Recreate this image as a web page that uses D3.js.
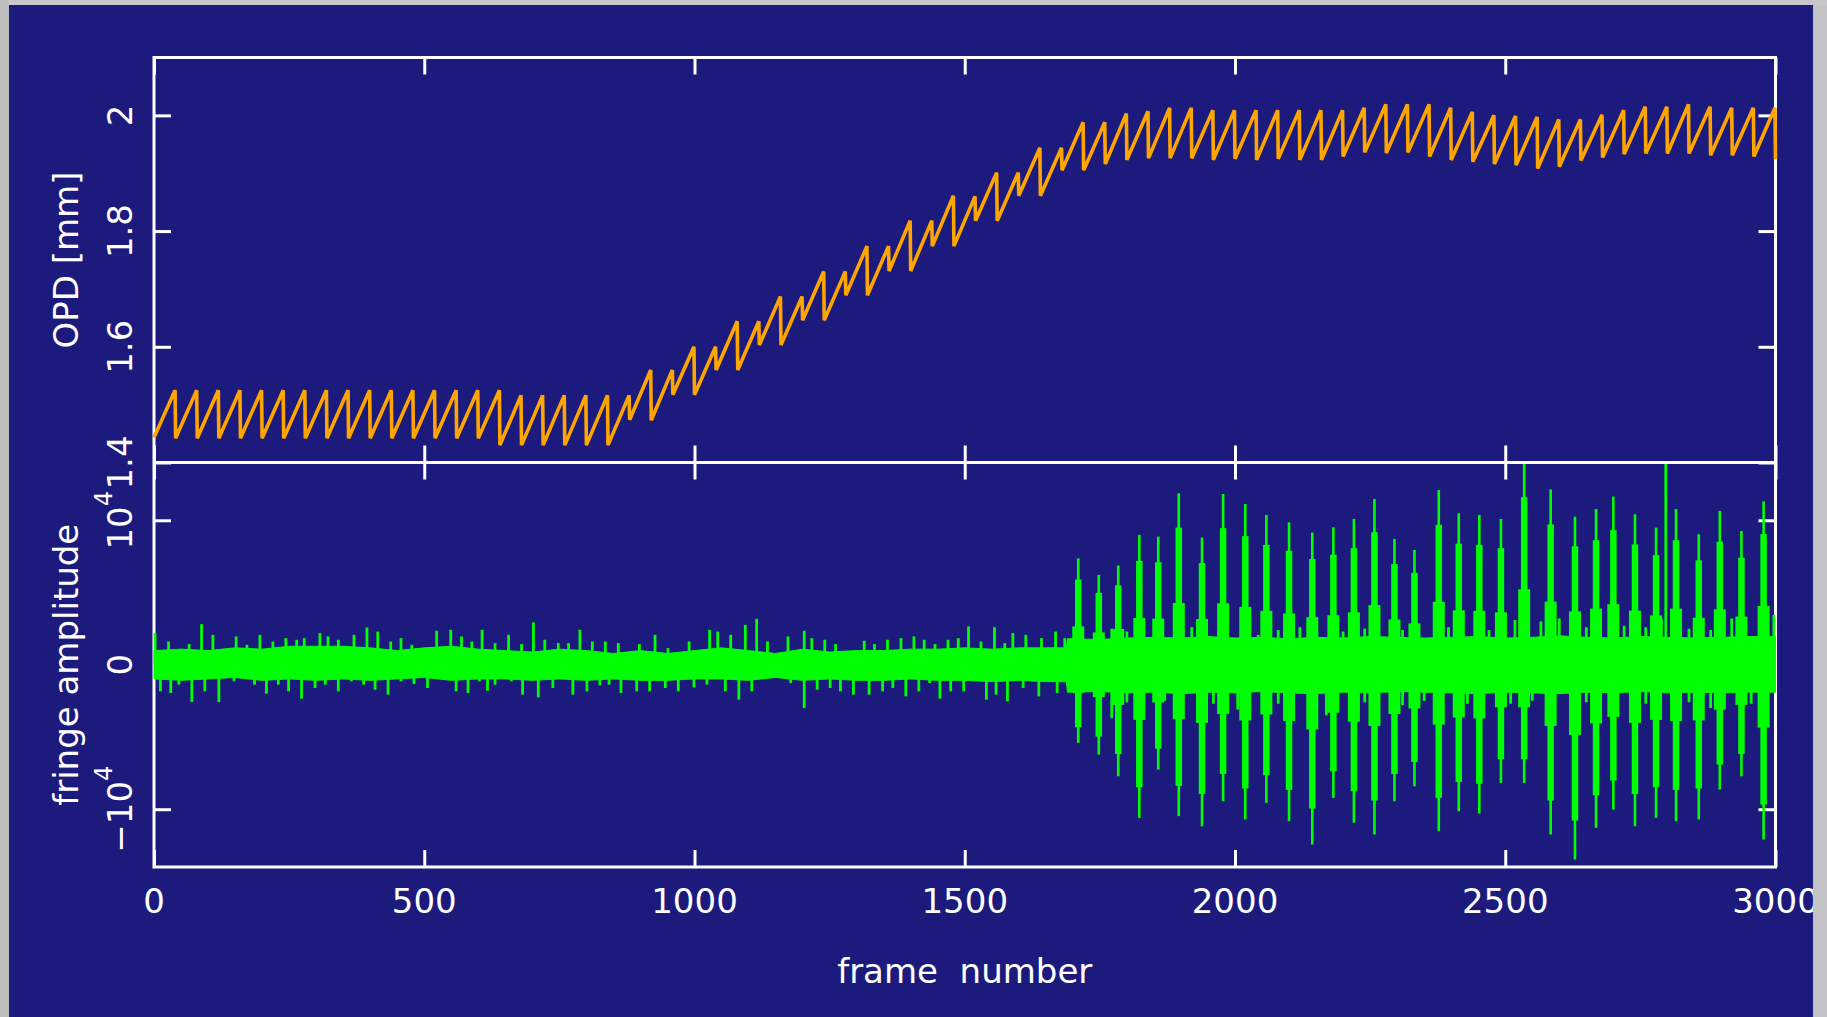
<!DOCTYPE html>
<html>
<head>
<meta charset="utf-8">
<script src="https://cdn.jsdelivr.net/npm/d3@7"></script>
<style>
  html, body { margin: 0; padding: 0; background: #c3c3c6; }
  svg { display: block; }
</style>
</head>
<body>
<svg id="chart" width="1827" height="1017"></svg>
<script>
// ---------------- OPD scan (upper panel) ----------------
// Each tooth: linear ramp up to a peak, then a fast drop to the trough.
const opdStart = [0, 1.443];
const peakFrame = [39,79,119,159,199,239,279,319,359,399,439,479,519,559,599,639,679,719,759,799,
  839,879,919,959,999,1039,1079,1119,1159,1199,1239,1279,1319,1359,1399,1439,1479,1519,1559,1599,
  1639,1679,1719,1759,1799,1839,1879,1919,1959,1999,2039,2079,2119,2159,2199,2239,2279,2319,2359,2399,
  2439,2479,2519,2559,2599,2639,2679,2719,2759,2799,2839,2879,2919,2959,2999];
const troughFrame = [40,80,120,160,200,240,280,320,360,400,440,480,520,560,600,640,680,720,760,800,
  840,880,920,960,1000,1040,1080,1120,1160,1200,1240,1280,1320,1360,1400,1440,1480,1520,1560,1600,
  1640,1680,1720,1760,1800,1840,1880,1920,1960,2000,2040,2080,2120,2160,2200,2240,2280,2320,2360,2400,
  2440,2480,2520,2560,2600,2640,2680,2720,2760,2800,2840,2880,2920,2960,3000];
const peakOpd = [1.525,1.525,1.525,1.525,1.525,1.525,1.525,1.525,1.525,1.525,1.525,1.525,1.525,1.525,1.525,
  1.525,1.516,1.516,1.516,1.516,1.516,1.516,
  1.560,1.560,1.600,1.600,1.644,1.644,1.687,1.687,1.730,1.730,1.774,1.774,1.818,1.818,1.861,1.860,
  1.901,1.901,1.944,1.944,1.988,1.988,2.003,2.007,2.013,2.013,2.009,2.009,2.009,2.009,2.009,2.009,2.009,
  2.013,2.019,2.019,2.019,2.013,2.006,2.000,1.999,1.997,1.993,1.993,2.001,2.009,2.015,2.015,2.019,2.015,
  2.013,2.013,2.013];
const troughOpd = [1.442,1.442,1.442,1.442,1.442,1.442,1.442,1.442,1.442,1.442,1.442,1.442,1.442,1.442,1.442,
  1.430,1.430,1.430,1.430,1.430,1.430,1.474,1.473,
  1.517,1.517,1.560,1.560,1.603,1.603,1.646,1.646,1.689,1.689,1.731,1.731,1.774,1.774,1.818,1.818,
  1.861,1.861,1.905,1.905,
  1.916,1.923,1.926,1.926,1.926,1.923,1.925,1.923,1.925,1.923,1.923,1.929,1.936,1.935,1.936,1.929,
  1.923,1.920,1.916,1.914,1.908,1.911,1.922,1.927,1.933,1.934,1.934,1.934,1.931,1.931,1.929,1.924];

// ---------------- fringe amplitude (lower panel) ----------------
// Dense noise band: envelope of the solid part of the trace (counts)
const bandFrame = [0,50,100,150,200,250,300,350,400,450,500,550,600,650,700,750,800,850,900,950,
  1000,1050,1100,1150,1200,1250,1300,1350,1400,1450,1500,1550,1600,1650,1688,
  1690,1750,1800,1850,1900,1950,2000,2050,2100,2150,2200,2250,2300,2350,2400,2450,2500,2550,2600,
  2650,2700,2750,2800,2850,2900,2950,3000];
const bandHi = [980,1080,980,1170,1080,1280,1280,1280,1170,980,1170,1280,1080,980,880,1080,980,780,980,780,
  980,1170,980,780,1080,880,980,980,1080,1080,1170,1080,1170,1170,1170,
  1800,1750,1850,1900,1850,1950,1850,1900,1800,1900,1850,1950,1900,1850,1900,1950,1850,1900,2000,
  1900,1850,1950,1900,1850,1900,1950,1950];
const bandLo = [-980,-1080,-980,-880,-1080,-980,-1080,-980,-1080,-980,-880,-1080,-980,-980,-1080,-980,-1080,-980,-1080,-1080,
  -980,-980,-1080,-880,-1080,-980,-1080,-1080,-980,-1080,-1080,-1170,-1080,-1170,-1170,
  -1900,-1850,-1950,-1900,-2000,-1900,-1950,-1850,-1950,-2000,-1900,-1950,-1850,-1900,-1950,-2000,-1900,-1950,-2000,
  -1900,-1950,-1850,-1950,-1900,-1950,-1900,-1900];

// Isolated noise spikes sticking out of the band (frame, counts)
const spikeFrame = [2,27,65,88,109,152,172,196,220,244,264,278,307,322,341,370,394,414,438,457,477,523,549,569,588,607,631,656,680,702,
  723,748,767,788,811,835,859,898,927,951,990,1028,1043,1067,1094,1115,1135,1173,1203,1217,1241,1261,1314,1333,1357,1382,1406,1425,1445,1469,
  1488,1507,1530,1555,1574,1589,1613,1642,1668,1685,
  12,31,46,70,94,120,148,186,208,230,249,273,298,317,341,365,388,409,433,457,481,506,559,581,602,617,631,661,682,711,
  738,775,801,825,842,864,893,917,946,970,999,1023,1057,1082,1106,1178,1203,1227,1251,1270,1294,1323,1348,1367,1391,1415,1435,1454,1474,1498,
  1540,1558,1579,1608,1637,1671,
  1772,1800,1920,2043,2080,2120,2200,2240,2310,2395,2470,2518,2566,2600,2650,2720,2760,2789,2797,2840,2880,2919,2997,
  1772,1800,1870,1960,2005,2080,2169,2240,2310,2350,2430,2510,2550,2650,2700,2760,2840,2880,2955];
const spikeValue = [2190,1610,1430,2810,2070,1960,1380,2070,1610,1840,1730,1840,2190,1960,1730,2070,2580,2300,1610,1840,1380,2350,2420,1960,1610,2420,1500,2070,1430,2930,
  1730,1500,1500,2420,1610,1610,1500,1430,2070,1150,1610,2420,2300,2070,2760,3180,1610,1960,2350,1840,1730,1430,1660,1430,1730,1840,1960,1730,1430,1730,
  1840,2650,1610,2600,1500,2190,2070,1840,2300,1840,
  -1840,-1960,-1380,-2580,-1840,-2580,-1150,-1380,-2000,-1380,-1840,-2350,-1610,-1380,-1840,-1150,-1380,-1730,-2070,-1150,-1340,-1610,-1840,-1960,-1150,-1800,-1380,-1150,-2070,-2260,
  -1610,-2070,-1840,-1430,-1380,-1960,-1840,-1840,-1610,-1840,-1570,-1380,-1840,-2420,-1840,-1270,-3000,-1730,-1610,-1840,-2070,-2070,-1840,-1610,-2190,-1840,-1270,-2350,-1840,-1840,
  -2420,-2070,-2530,-1610,-2190,-1960,
  2500,2300,2600,2070,2400,2600,2300,2500,2400,2600,2400,3100,3000,3200,2600,2700,2600,3200,14500,2500,2400,3200,3450,
  -3700,-2600,-2500,-2700,-3100,-2700,-3500,-2600,-2800,-2500,-2700,-2700,-2500,-2600,-2800,-2700,-2600,-3000,-2700];

// Fringe packets: centre frame, positive and negative extremes (counts)
const packetFrame = [1710,1748,1784,1823,1858,1896,1939,1978,2019,2058,2100,2143,2182,2220,2258,2295,2332,2377,
  2414,2452,2492,2535,2584,2629,2668,2700,2740,2779,2816,2858,2897,2937,2978];
const packetTop = [7370,6220,6870,8990,8870,11870,8800,11820,11130,10370,9860,9150,9520,10090,11470,8710,7950,12100,
  10480,10370,10090,14500,12140,10250,10780,11640,10410,9490,10780,9030,10650,9260,11310];
const packetBottom = [-5410,-6220,-7720,-10600,-7260,-10480,-11180,-9450,-10710,-9560,-10830,-12440,-9220,-10940,-11750,-9450,-8410,-11520,
  -10140,-10300,-8180,-8180,-11750,-13480,-11290,-10020,-11180,-10600,-10830,-10710,-8640,-7720,-12100];

// ---------------- axis ticks ----------------
const frameTicks = [0, 500, 1000, 1500, 2000, 2500, 3000];
const opdTicks = [1.4, 1.6, 1.8, 2.0];
const opdTickLabels = ["1.4", "1.6", "1.8", "2"];
const ampTicks = [-10000, 0, 10000];

// ---------------- layout ----------------
const W = 1827, H = 1017;
const X0 = 154, X1 = 1775.5, YT = 57.5, YM = 462.5, YB = 867;
const TICK = 17;
const BG = "#1c1b7d", FG = "#ffffff";
const FONT = "'DejaVu Sans', Verdana, sans-serif";

const svg = d3.select("#chart");

svg.append("rect").attr("width", W).attr("height", H).attr("fill", "#c3c3c6");
svg.append("rect").attr("x", 9).attr("y", 5).attr("width", 1804).attr("height", H - 5).attr("fill", BG);

const x = d3.scaleLinear().domain([0, 3000]).range([X0, X1]);
const yOpd = d3.scaleLinear().domain([1.4, 2.1]).range([YM, YT]);
const yAmp = d3.scaleLinear().domain([-14000, 14000]).range([YB, YM]);

const defs = svg.append("defs");
defs.append("clipPath").attr("id", "clipBot")
  .append("rect").attr("x", X0 - 2).attr("y", YM + 1.5).attr("width", X1 - X0 + 4).attr("height", YB - YM - 1.5);

// ---- frames and ticks ----
const axes = svg.append("g");
function styleAxis(g) {
  g.select(".domain").remove();
  g.selectAll(".tick line").attr("stroke", FG).attr("stroke-width", 3);
  g.selectAll(".tick text").remove();
}
axes.append("g").attr("transform", `translate(0,${YT})`)
  .call(d3.axisTop(x).tickValues(frameTicks).tickSize(-TICK)).call(styleAxis);
axes.append("g").attr("transform", `translate(0,${YM})`)
  .call(d3.axisBottom(x).tickValues(frameTicks).tickSize(-TICK)).call(styleAxis);
axes.append("g").attr("transform", `translate(0,${YM})`)
  .call(d3.axisTop(x).tickValues(frameTicks).tickSize(-TICK)).call(styleAxis);
axes.append("g").attr("transform", `translate(0,${YB})`)
  .call(d3.axisBottom(x).tickValues(frameTicks).tickSize(-TICK)).call(styleAxis);
axes.append("g").attr("transform", `translate(${X0},0)`)
  .call(d3.axisLeft(yOpd).tickValues(opdTicks).tickSize(-TICK)).call(styleAxis);
axes.append("g").attr("transform", `translate(${X1},0)`)
  .call(d3.axisRight(yOpd).tickValues(opdTicks).tickSize(-TICK)).call(styleAxis);
axes.append("g").attr("transform", `translate(${X0},0)`)
  .call(d3.axisLeft(yAmp).tickValues(ampTicks).tickSize(-TICK)).call(styleAxis);
axes.append("g").attr("transform", `translate(${X1},0)`)
  .call(d3.axisRight(yAmp).tickValues(ampTicks).tickSize(-TICK)).call(styleAxis);

axes.append("rect").attr("x", X0).attr("y", YT).attr("width", X1 - X0).attr("height", YB - YT)
  .attr("fill", "none").attr("stroke", FG).attr("stroke-width", 3);
axes.append("line").attr("x1", X0).attr("x2", X1).attr("y1", YM).attr("y2", YM)
  .attr("stroke", FG).attr("stroke-width", 3);

// ---- OPD sawtooth ----
const opdPts = [opdStart];
peakFrame.forEach((f, i) => {
  opdPts.push([f, peakOpd[i]]);
  opdPts.push([troughFrame[i], troughOpd[i]]);
});
svg.append("path")
  .datum(opdPts)
  .attr("fill", "none")
  .attr("stroke", "#ffa500")
  .attr("stroke-width", 3.6)
  .attr("stroke-linejoin", "miter")
  .attr("stroke-miterlimit", 3)
  .attr("d", d3.line().x(d => x(d[0])).y(d => yOpd(d[1])));

// ---- fringe amplitude ----
const GREEN = "#00ff00";
const lower = svg.append("g").attr("clip-path", "url(#clipBot)");

const band = bandFrame.map((f, i) => ({ f, hi: bandHi[i], lo: bandLo[i] }));
lower.append("path")
  .datum(band)
  .attr("fill", GREEN)
  .attr("stroke", GREEN)
  .attr("stroke-width", 1)
  .attr("d", d3.area().curve(d3.curveLinear)
    .x(d => x(d.f)).y0(d => yAmp(d.lo)).y1(d => yAmp(d.hi)));

lower.selectAll("line.spike")
  .data(spikeFrame.map((f, i) => ({ f, v: spikeValue[i] })))
  .join("line")
  .attr("class", "spike")
  .attr("x1", d => x(d.f)).attr("x2", d => x(d.f))
  .attr("y1", yAmp(0)).attr("y2", d => yAmp(d.v))
  .attr("stroke", GREEN).attr("stroke-width", 2.8);

const packets = packetFrame.map((f, i) => ({ f, top: packetTop[i], bot: packetBottom[i] }));
// each packet: wide low shoulder, medium body, thin extreme excursion
const layers = [
  { w: 12, frac: 0.36 },
  { w: 6.5, frac: 0.8 },
  { w: 2.6, frac: 1.0 }
];
layers.forEach(L => {
  lower.selectAll(null)
    .data(packets)
    .join("rect")
    .attr("x", d => x(d.f) - L.w / 2)
    .attr("width", L.w)
    .attr("y", d => yAmp(d.top * L.frac))
    .attr("height", d => yAmp(d.bot * L.frac) - yAmp(d.top * L.frac))
    .attr("fill", GREEN);
});

// ---- labels ----
const txt = svg.append("g").attr("fill", FG).attr("font-family", FONT).attr("font-size", 34);

frameTicks.forEach(v => {
  txt.append("text").attr("x", x(v)).attr("y", 913).attr("text-anchor", "middle").text(v);
});

opdTicks.forEach((v, i) => {
  txt.append("text")
    .attr("transform", `translate(132,${yOpd(v)}) rotate(-90)`)
    .attr("text-anchor", "middle")
    .text(opdTickLabels[i]);
});

ampTicks.forEach(v => {
  const t = txt.append("text")
    .attr("transform", `translate(132,${yAmp(v)}) rotate(-90)`)
    .attr("text-anchor", "middle");
  if (v === 0) { t.text("0"); return; }
  t.append("tspan").text((v < 0 ? "\u2212" : "") + "10");
  t.append("tspan").attr("dy", -20).attr("font-size", 24).text(Math.round(Math.log10(Math.abs(v))));
});

txt.append("text")
  .attr("transform", `translate(78,${(YT + YM) / 2}) rotate(-90)`)
  .attr("text-anchor", "middle").text("OPD [mm]");
txt.append("text")
  .attr("transform", `translate(78,${(YM + YB) / 2}) rotate(-90)`)
  .attr("text-anchor", "middle").text("fringe amplitude");
txt.append("text")
  .attr("x", (X0 + X1) / 2).attr("y", 983)
  .attr("text-anchor", "middle").attr("xml:space", "preserve").text("frame  number");

// window edge strips
svg.append("rect").attr("x", 1813).attr("y", 0).attr("width", W - 1813).attr("height", H).attr("fill", "#c3c3c6");
svg.append("rect").attr("x", 0).attr("y", 0).attr("width", W).attr("height", 5).attr("fill", "#c8c8cc");
svg.append("rect").attr("x", 0).attr("y", 0).attr("width", 9).attr("height", H).attr("fill", "#bebebe");
</script>
</body>
</html>
